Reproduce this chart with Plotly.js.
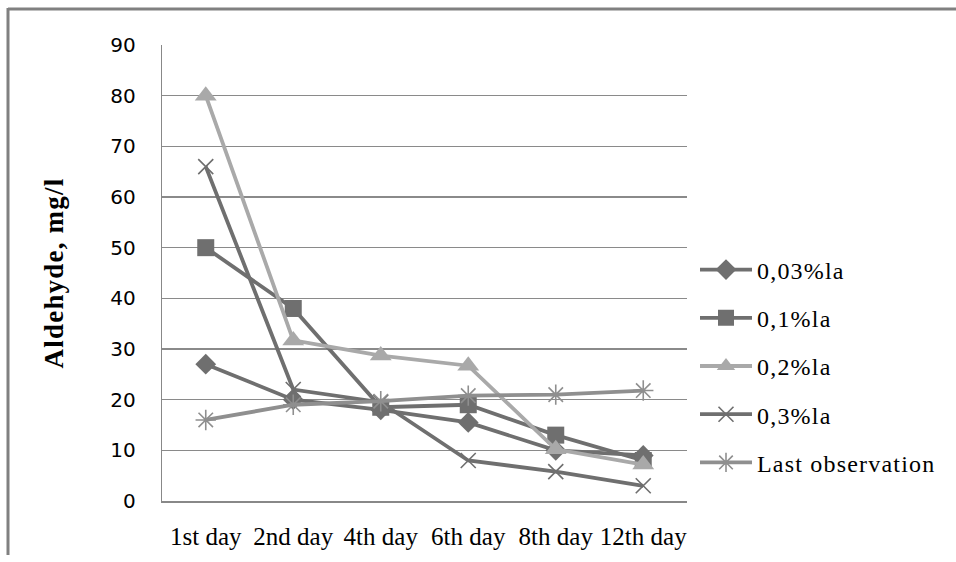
<!DOCTYPE html>
<html>
<head>
<meta charset="utf-8">
<script src="https://cdn.plot.ly/plotly-3.0.1.min.js"></script>
<style>
html,body{margin:0;padding:0;background:#fff;}
#chart{width:956px;height:562px;}
.legendtext{letter-spacing:1.2px;}
.ytitle{letter-spacing:1.2px;}
</style>
</head>
<body>
<div id="chart"></div>
<script>
const categories = ["1st day", "2nd day", "4th day", "6th day", "8th day", "12th day"];
const seriesNames = ["0,03%la", "0,1%la", "0,2%la", "0,3%la", "Last observation"];
const la003 = [27, 20, 18, 15.5, 10, 9];
const la01 = [50, 38, 18.5, 19, 13, 8];
const la02 = [80, 31.7, 28.7, 26.7, 10.2, 7.2];
const la03 = [66, 22, 19.5, 8, 5.8, 3];
const lastObs = [16, 19, 19.7, 20.8, 21, 21.8];
const yTicks = [0, 10, 20, 30, 40, 50, 60, 70, 80, 90];

const dark = "#6f6f6f";
const light = "#a9a9a9";
const mid = "#8f8f8f";

function tr(name, y, color, symbol, size, lw) {
  return {
    type: "scatter", mode: "lines+markers", name: name,
    x: categories, y: y, legendgroup: name,
    line: {color: color, width: 3.8},
    marker: {symbol: symbol, size: size, color: color, line: {color: color, width: lw}},
    cliponaxis: false
  };
}

const data = [
  tr(seriesNames[0], la003, dark, "diamond", 16, 0),
  tr(seriesNames[1], la01, dark, "square", 17, 0),
  tr(seriesNames[2], la02, light, "triangle-up", 19, 0),
  tr(seriesNames[3], la03, dark, "x-thin-open", 15, 1.6),
  tr(seriesNames[4], lastObs, mid, "asterisk-open", 17, 1.6)
];

const layout = {
  width: 956, height: 562,
  margin: {l: 162, r: 269, t: 45, b: 61},
  paper_bgcolor: "#fff", plot_bgcolor: "#fff",
  showlegend: true,
  legend: {
    x: 1 + 8/525, xanchor: "left", xref: "paper", y: (501 - 366) / 456, yanchor: "middle",
    font: {family: "Liberation Serif", size: 24, color: "#000"},
    traceorder: "grouped", tracegroupgap: 14, itemwidth: 52,
    bgcolor: "rgba(0,0,0,0)"
  },
  xaxis: {
    type: "category", range: [-0.5, 5.5],
    showgrid: false, showline: true, linecolor: "#888", linewidth: 1.5,
    ticks: "", tickfont: {family: "Liberation Serif", size: 25, color: "#000"},
    ticklabelstandoff: 12, zeroline: false, fixedrange: true
  },
  yaxis: {
    range: [0, 90], tickvals: yTicks, ticktext: yTicks.map(String),
    showgrid: true, gridcolor: "#8a8a8a", gridwidth: 1.2,
    showline: true, linecolor: "#888", linewidth: 1.2,
    ticks: "", zeroline: false,
    tickfont: {family: "DejaVu Sans", size: 20, color: "#000"},
    ticklabelstandoff: 21,
    title: {text: "Aldehyde, mg/l", font: {family: "Liberation Serif", size: 27, color: "#000", weight: "bold"}, standoff: 38},
    fixedrange: true
  },
  shapes: [
    {type: "line", xref: "paper", yref: "paper", x0: -154/525, x1: 800/525, y0: 1 + 36/456, y1: 1 + 36/456, line: {color: "#808080", width: 3}},
    {type: "line", xref: "paper", yref: "paper", x0: -154/525, x1: -154/525, y0: 1 + 37/456, y1: -54/456, line: {color: "#808080", width: 3}}
  ]
};

Plotly.newPlot("chart", data, layout, {displayModeBar: false, staticPlot: true});
</script>
</body>
</html>
